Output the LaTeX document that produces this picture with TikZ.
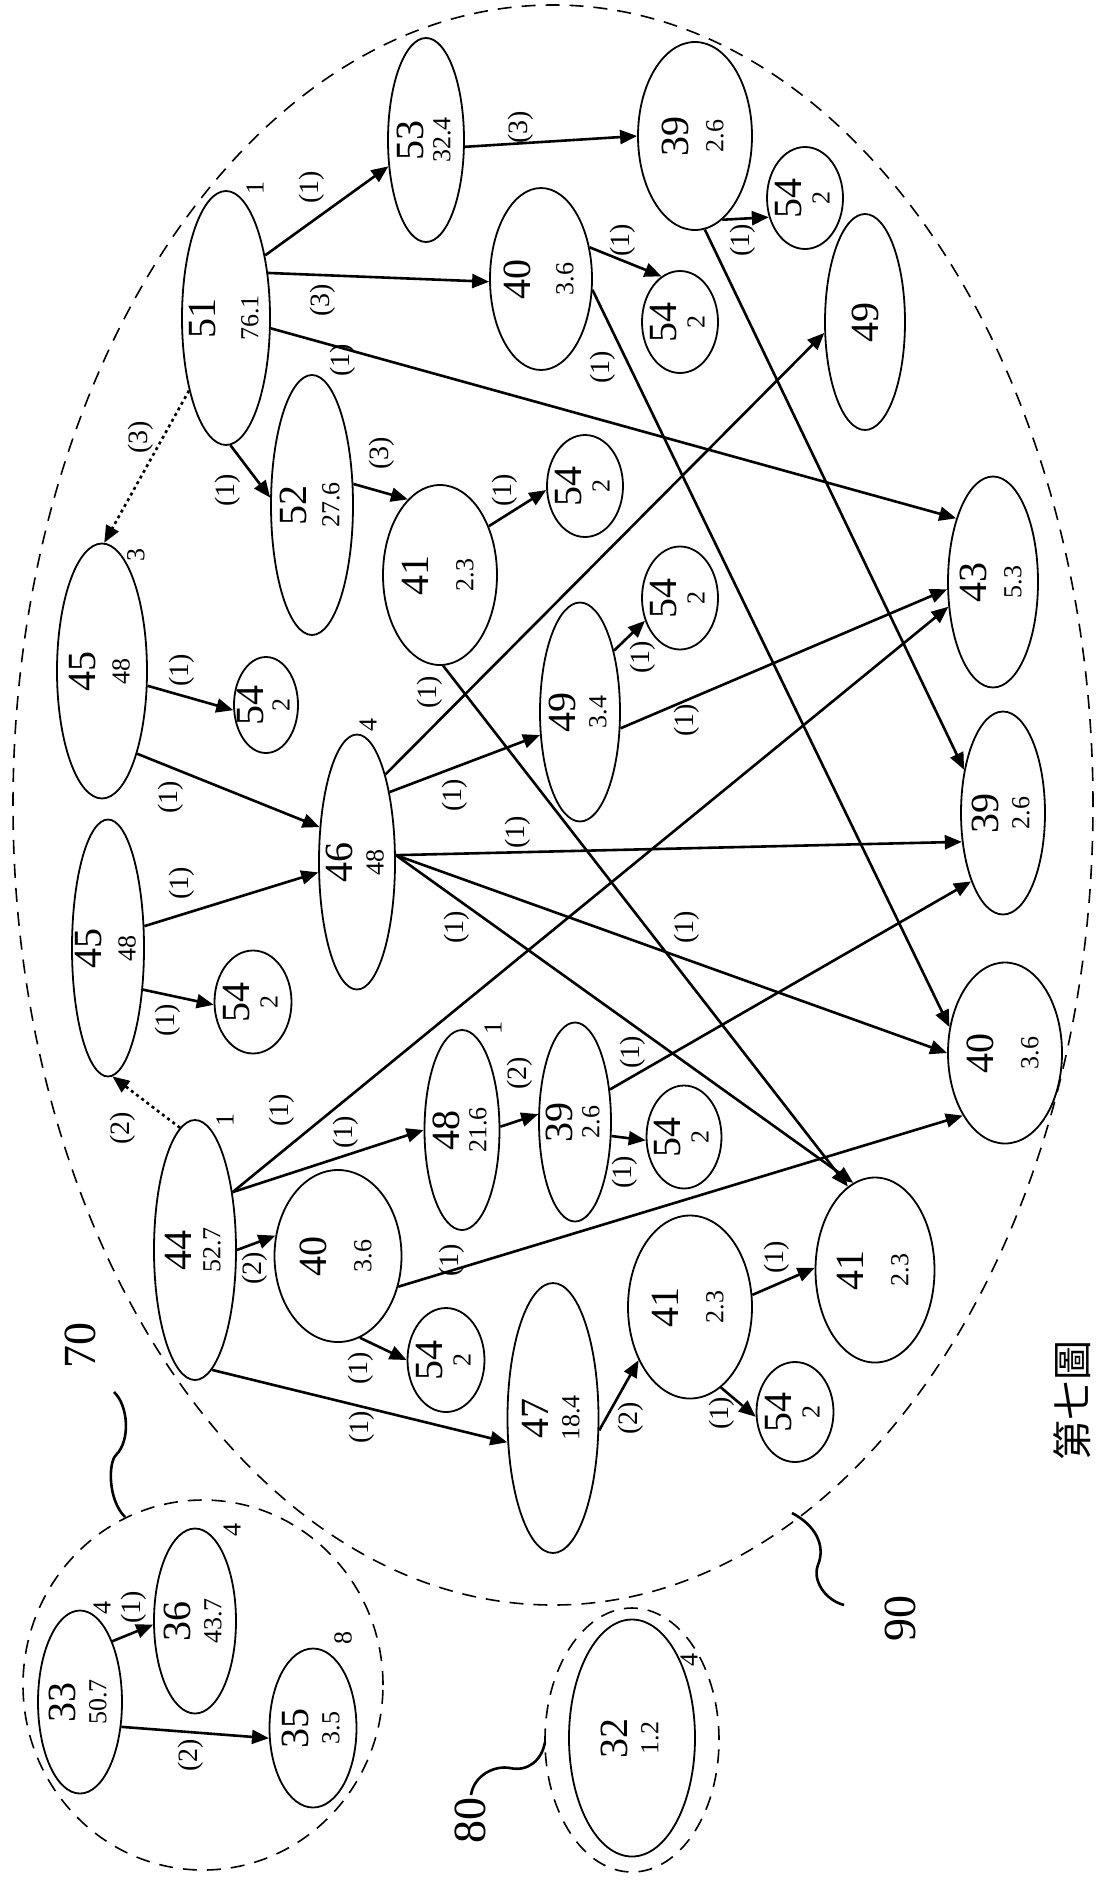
\documentclass[tikz,border=0pt]{standalone}
\usepackage{fontspec}
\setmainfont{Liberation Serif}
\newfontfamily\cjk{Noto Sans CJK TC}
\usetikzlibrary{arrows.meta,shapes.geometric}

\tikzset{
  blob/.style={ellipse, draw, line width=1.8pt, inner sep=0pt},
  numbig/.style={rotate=90, inner sep=0pt, font=\fontsize{40}{40}\selectfont},
  numsmall/.style={rotate=90, inner sep=0pt, font=\fontsize{26}{26}\selectfont},
  lab/.style={rotate=90, inner sep=0pt, font=\fontsize{28}{28}\selectfont},
  tag/.style={rotate=90, inner sep=0pt, font=\fontsize{26}{26}\selectfont},
  refnum/.style={rotate=90, inner sep=0pt, font=\fontsize{46}{46}\selectfont},
  link/.style={line width=2.6pt, -{Triangle[length=17pt,width=14pt]}},
  hint/.style={link, dash pattern=on 3pt off 3.5pt},
  zone/.style={line width=1.6pt, dash pattern=on 14pt off 10pt},
  lead/.style={line width=2.6pt},
}

\begin{document}
\begin{tikzpicture}[x=1pt,y=-1pt]
\useasboundingbox (0,0) rectangle (1104,1887);

% groups 90, 70, 80
\draw[zone] (553,805) ellipse [x radius=540pt, y radius=800pt];
\draw[zone] (203,1685) ellipse [x radius=180pt, y radius=185pt];
\draw[zone] (632,1740) ellipse [x radius=87pt, y radius=132pt];

% nodes: name/x/y/width/height/value/weight/half gap
\foreach \id/\x/\y/\w/\h/\a/\b/\g in {
  n51/226/318/88/254/51/76.1/24, n53/426/140/76/204/53/32.4/16,
  n40a/541/279/102/182/40/3.6/24, n39a/695/136/114/188/39/2.6/20,
  n54a/805/198/76/102/54/2/16, n54b/680/322/76/102/54/2/16,
  n49a/865/322/80/216/49//0, n52/312/505/82/260/52/27.6/19,
  n41a/440/575/114/180/41/2.3/25, n54c/585/486/76/102/54/2/16,
  n45a/102/671/90/255/45/48/19, n54d/266/705/64/96/54/2/15,
  n46/357/862/76/255/46/48/18, n49b/580/712/80/219/49/3.4/18,
  n54e/680/598/76/103/54/2/16, n43/993/582/90/211/43/5.3/20,
  n45b/108/948/72/257/45/48/19, n54f/253/1002/77/103/54/2/16,
  n39b/1003/813/84/203/39/2.6/18, n40b/1005/1053/114/181/40/3.6/25,
  n44/195/1250/82/260/44/52.7/17, n40c/338/1256/127/172/40/3.6/25,
  n48/462/1130/75/200/48/21.6/16, n39c/575/1122/72/199/39/2.6/16,
  n54g/684/1137/75/103/54/2/16, n54h/446/1360/77/104/54/2/16,
  n47/553/1418/91/270/47/18.4/18, n41b/690/1307/124/183/41/2.3/25,
  n41c/875/1270/119/185/41/2.3/25, n54i/795/1412/77/100/54/2/16,
  n33/80/1702/84/183/33/50.7/18, n36/195/1621/82/185/36/43.7/18,
  n35/313/1728/87/159/35/3.5/18, n32/632/1738/126/237/32/1.2/18}{
  \node[blob, minimum width=\w pt, minimum height=\h pt] (\id) at (\x,\y) {};
  \node[numbig] at ([xshift=-\g pt]\id.center) {\a};
  \node[numsmall] at ([xshift=\g pt]\id.center) {\b};
}

\foreach \x/\y/\t in {255/188/1, 136/555/3, 368/725/4, 225/1120/1, 493/1028/1,
  102/1608/4, 232/1530/4, 343/1638/8, 689/1660/4}
  \node[tag] at (\x,\y) {\t};

% arrows
\foreach \s/\t in {n51.58/n53.215, n51.47/n40a.183, n51.-13/n43.120,
  n51.-88/n52.170, n53.-10/n39a.180, n40a.33/n54b.112, n40a.-12/n40b.155,
  n39a.-72/n54a.208, n39a.-84/n39b.132, n52.27/n41a.113, n41a.45/n54c.186,
  n41a.-88/n41c.108, n45a.-18/n54d.189, n45a.-67/n46.137, n45b.31/n46.195,
  n45b.-50/n54f.184, n46.72/n49a.195, n46.65/n49b.210, n46.10/n39b.215,
  n46.10/n40b.180, n46.10/n41c.104, n49b.61/n54e.213, n49b.-22/n43.189,
  n44.57/n43.209, n44.57/n48.180, n44.0/n40c.162, n44.-82/n47.208,
  n48.5/n39c.168, n39c.43/n39b.245, n39c.-21/n54g.185, n40c.-27/n40b.236,
  n40c.-75/n54h.180, n47.-15/n41b.226, n41b.11/n41c.178, n41b.-69/n54i.187,
  n33.62/n36.185, n33.-31/n35.193}
  \draw[link] (\s) -- (\t);
\draw[hint] (n51.243) -- (n45a.89);
\draw[hint] (n44.97) -- (n45b.-88);

\foreach \x/\y/\t in {312/187/1, 323/300/3, 343/360/1, 228/490/1, 141/437/3,
  521/127/3, 623/240/1, 603/367/1, 743/240/1, 382/453/3, 505/490/1,
  182/670/1, 171/797/1, 182/883/1, 430/692/1, 455/795/1, 518/832/1,
  457/927/1, 643/657/1, 687/720/1, 687/927/1, 168/1020/1, 123/1128/2,
  282/1110/1, 346/1132/1, 255/1268/2, 452/1260/1, 361/1368/1, 362/1427/1,
  520/1073/2, 633/1052/1, 625/1172/1, 777/1257/1, 722/1413/1, 631/1418/2,
  134/1607/1, 191/1755/2}
  \node[lab] at (\x,\y) {(\t)};

% reference numerals
\node[refnum] (r70) at (80,1345) {70};
\node[refnum] (r80) at (470,1820) {80};
\node[refnum] (r90) at (900,1618) {90};
\draw[lead] (114,1392) .. controls (128,1405) and (131,1440) .. (116,1455)
  .. controls (108,1463) and (108,1500) .. (125,1517);
\draw[lead] (471,1795) .. controls (474,1775) and (495,1765) .. (510,1768)
  .. controls (528,1772) and (542,1760) .. (545,1742);
\draw[lead] (792,1513) .. controls (815,1525) and (826,1545) .. (818,1565)
  .. controls (812,1580) and (825,1600) .. (844,1605);

\node[rotate=90, inner sep=0pt, font=\cjk\fontsize{40}{40}\selectfont] at (1072,1400) {第七圖};
\end{tikzpicture}
\end{document}
